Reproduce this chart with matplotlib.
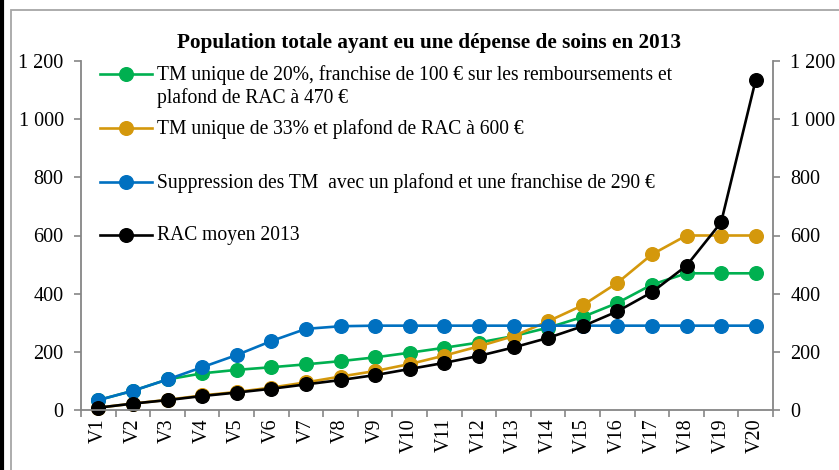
import matplotlib.pyplot as plt
from matplotlib.lines import Line2D
from matplotlib.patches import Rectangle
from matplotlib.ticker import FuncFormatter
import numpy as np

plt.rcParams['font.family'] = ['Liberation Serif', 'DejaVu Serif']

categories = ['V%d' % i for i in range(1, 21)]

# TM unique 20%, franchise 100, plafond 470
tm20 = [34, 66, 105, 126, 138, 147, 157, 168, 181, 197,
        214, 232, 254, 283, 320, 368, 431, 470, 470, 470]
# TM unique 33%, plafond 600
tm33 = [8, 22, 35, 50, 62, 77, 95, 115, 134, 158,
        187, 219, 254, 305, 360, 437, 535, 600, 600, 600]
# suppression des TM, plafond + franchise 290
supp = [34, 66, 105, 147, 189, 237, 279, 288, 290, 290,
        290, 290, 290, 290, 290, 290, 290, 290, 290, 290]
# RAC moyen 2013
rac = [8, 22, 34, 48, 60, 73, 88, 103, 120, 141,
       162, 186, 215, 248, 288, 339, 405, 496, 645, 1135]

labels = ['TM unique de 20%, franchise de 100 € sur les remboursements et\nplafond de RAC à 470 €',
          'TM unique de 33% et plafond de RAC à 600 €',
          'Suppression des TM  avec un plafond et une franchise de 290 €',
          'RAC moyen 2013']
colors = ['#00B050', '#D4980C', '#0070C0', '#000000']
series = [tm20, tm33, supp, rac]

W, H = 839, 470
fig = plt.figure(figsize=(W / 100, H / 100), dpi=100)
ax = fig.add_axes([81 / W, 1 - 410 / H, (773 - 81) / W, (410 - 61) / H])

x = np.arange(1, 21)
for vals, col in zip(series, colors):
    ax.plot(x, vals, color=col, lw=1.9, marker='o', ms=9.8, clip_on=False)

ax.set_xlim(0.5, 20.5)
ax.set_ylim(0, 1200)
ax.set_yticks(np.arange(0, 1201, 200))
ax.yaxis.set_major_formatter(FuncFormatter(lambda v, p: '{:,}'.format(int(v)).replace(',', ' ')))

ax.set_xticks(np.arange(0.5, 21, 1))
ax.set_xticklabels([])
ax.set_xticks(x, minor=True)
ax.set_xticklabels(categories, minor=True, rotation=90, fontsize=14.5)
ax.tick_params(axis='x', which='minor', length=0, pad=6)
ax.tick_params(axis='x', which='major', direction='out', length=5, color='#868686', width=1.2)
ax.tick_params(axis='y', direction='out', length=5, color='#868686', width=1.2,
               labelsize=14.5, right=True, labelright=True, pad=7.5)

ax.spines['top'].set_visible(False)
for s in ['left', 'right', 'bottom']:
    ax.spines[s].set_color('#868686')
    ax.spines[s].set_linewidth(1.3)

fig.text(429 / W, 1 - 43 / H, 'Population totale ayant eu une dépense de soins en 2013',
         ha='center', va='center', fontsize=15.3, fontweight='bold')

# legend drawn by hand, Excel style
rows = [74, 128, 182, 235]
for lab, col, yy in zip(labels, colors, rows):
    yf = 1 - yy / H
    fig.add_artist(Line2D([100 / W, 152 / W], [yf, yf], color=col, lw=1.9,
                          transform=fig.transFigure))
    fig.add_artist(Line2D([126 / W], [yf], color=col, marker='o', ms=9.8,
                          transform=fig.transFigure))
    fig.text(157 / W, yf + 9 / H, lab, ha='left', va='top', fontsize=14.1,
             linespacing=1.2)

# frames
fig.add_artist(Rectangle((11 / W, -0.1), 1.2, 1 - 10 / H + 0.1, fill=False,
                         edgecolor='#a6a6a6', lw=1.3, transform=fig.transFigure))
fig.add_artist(Line2D([2 / W, 2 / W], [0, 1], color='black', lw=3,
                      transform=fig.transFigure))

fig.savefig('out.png', dpi=100)
